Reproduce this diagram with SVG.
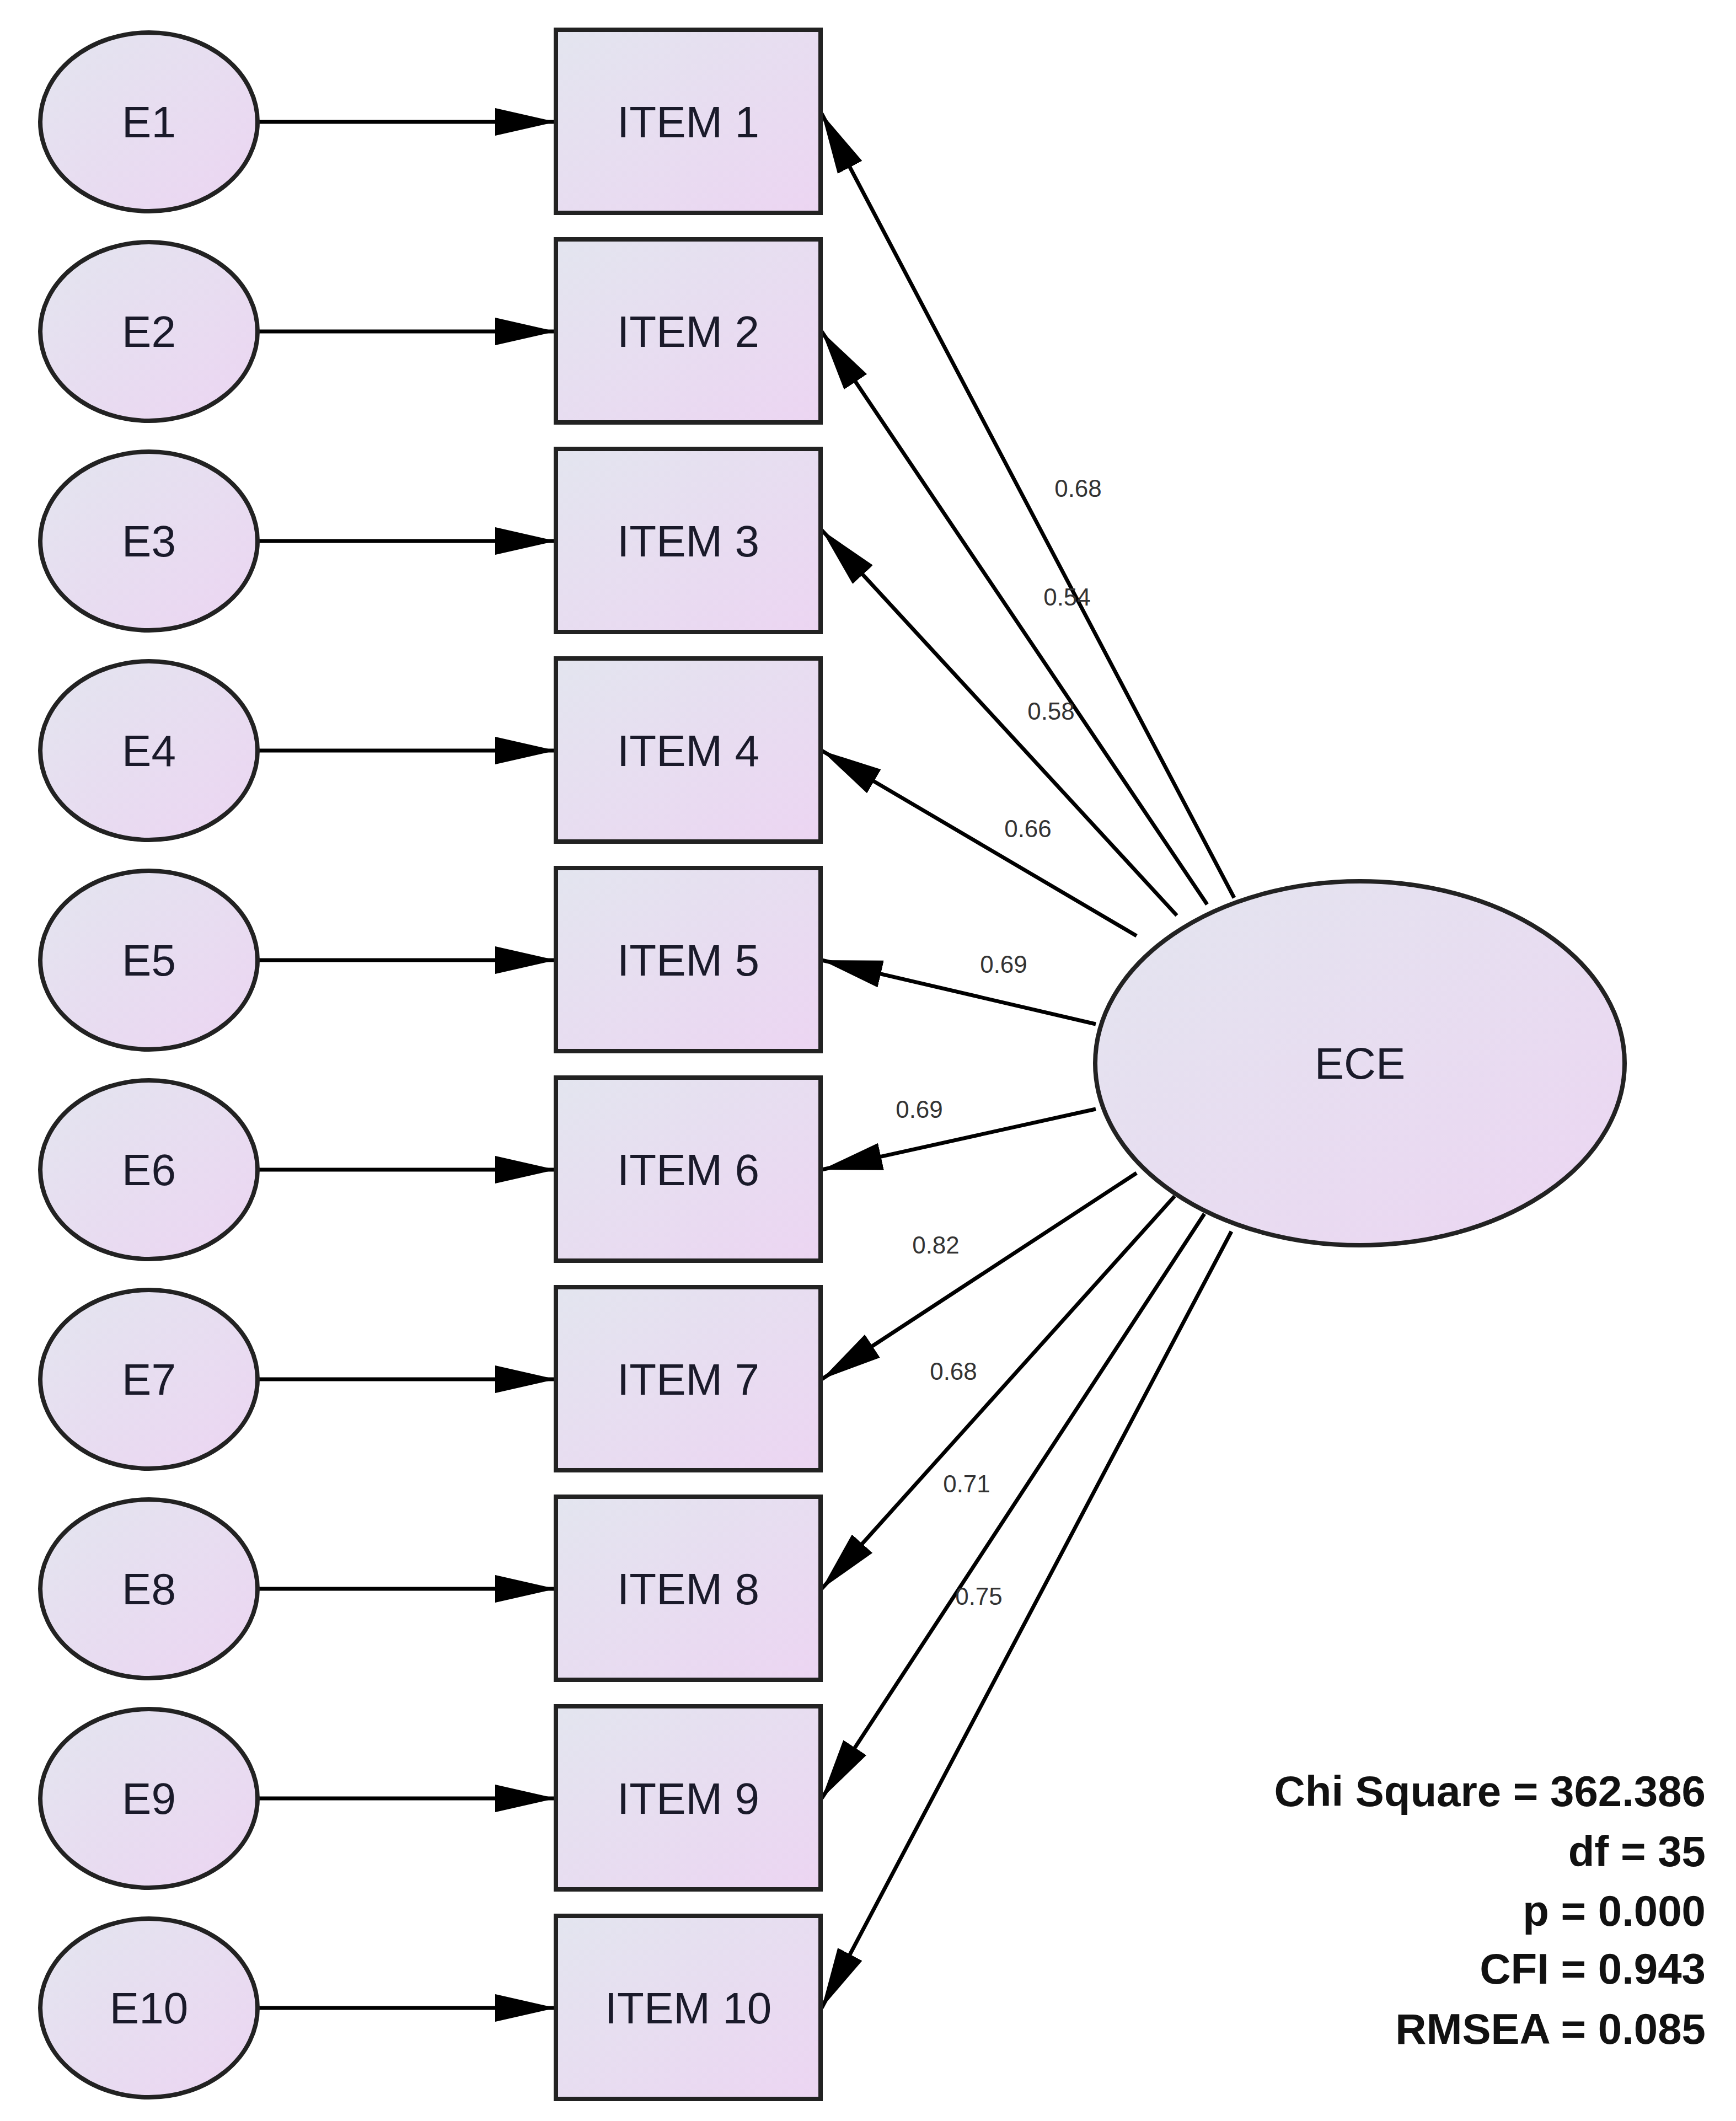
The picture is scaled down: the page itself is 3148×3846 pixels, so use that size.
<svg xmlns="http://www.w3.org/2000/svg" width="3148" height="3846" viewBox="0 0 3148 3846">
<defs>
<linearGradient id="g" x1="0" y1="0" x2="1" y2="1"><stop offset="0" stop-color="#e3e5ef"/><stop offset="1" stop-color="#ecd5f2"/></linearGradient>
<marker id="ah" markerWidth="12" markerHeight="8" refX="12" refY="4" orient="auto" markerUnits="userSpaceOnUse" viewBox="0 0 12 8" style="overflow:visible">
</marker>
<marker id="a" viewBox="0 0 110 50" refX="110" refY="25" markerWidth="110" markerHeight="50" markerUnits="userSpaceOnUse" orient="auto"><path d="M0,0 L110,25 L0,50 Z" fill="#000"/></marker>
<style>
.n{fill:url(#g);stroke:#222;stroke-width:8}
.t{font-family:"Liberation Sans",Arial,sans-serif;font-size:80px;fill:#1a1a2a;text-anchor:middle;dominant-baseline:central}
.c{stroke:#000;stroke-width:7;fill:none;marker-end:url(#a)}
.l{font-family:"Liberation Sans",Arial,sans-serif;font-size:44px;fill:#333;text-anchor:middle;dominant-baseline:central}
.s{font-family:"Liberation Sans",Arial,sans-serif;font-size:78px;font-weight:bold;fill:#111;text-anchor:end}
</style>
</defs>
<rect width="3148" height="3846" fill="#fff"/>
<g id="connectors">
<line class="c" x1="469" y1="221" x2="1008" y2="221"/>
<line class="c" x1="469" y1="601" x2="1008" y2="601"/>
<line class="c" x1="469" y1="981" x2="1008" y2="981"/>
<line class="c" x1="469" y1="1361" x2="1008" y2="1361"/>
<line class="c" x1="469" y1="1741" x2="1008" y2="1741"/>
<line class="c" x1="469" y1="2121" x2="1008" y2="2121"/>
<line class="c" x1="469" y1="2501" x2="1008" y2="2501"/>
<line class="c" x1="469" y1="2881" x2="1008" y2="2881"/>
<line class="c" x1="469" y1="3261" x2="1008" y2="3261"/>
<line class="c" x1="469" y1="3641" x2="1008" y2="3641"/>
<line class="c" x1="2238" y1="1628" x2="1490" y2="206"/>
<line class="c" x1="2189" y1="1640" x2="1490" y2="601"/>
<line class="c" x1="2134" y1="1660" x2="1490" y2="961"/>
<line class="c" x1="2061" y1="1697" x2="1490" y2="1361"/>
<line class="c" x1="1987" y1="1857" x2="1490" y2="1741"/>
<line class="c" x1="1987" y1="2011" x2="1490" y2="2121"/>
<line class="c" x1="2061" y1="2127" x2="1490" y2="2501"/>
<line class="c" x1="2130" y1="2169" x2="1490" y2="2881"/>
<line class="c" x1="2184" y1="2201" x2="1490" y2="3261"/>
<line class="c" x1="2233" y1="2233" x2="1490" y2="3641"/>
<text class="l" x="1955" y="885">0.68</text>
<text class="l" x="1935" y="1082">0.54</text>
<text class="l" x="1906" y="1289">0.58</text>
<text class="l" x="1864" y="1502">0.66</text>
<text class="l" x="1820" y="1748">0.69</text>
<text class="l" x="1667" y="2011">0.69</text>
<text class="l" x="1697" y="2257">0.82</text>
<text class="l" x="1729" y="2486">0.68</text>
<text class="l" x="1753" y="2690">0.71</text>
<text class="l" x="1775" y="2894">0.75</text>
</g>
<g id="E1"><ellipse class="n" cx="270" cy="221" rx="197" ry="162"/><text class="t" x="270" y="221">E1</text></g>
<g id="E2"><ellipse class="n" cx="270" cy="601" rx="197" ry="162"/><text class="t" x="270" y="601">E2</text></g>
<g id="E3"><ellipse class="n" cx="270" cy="981" rx="197" ry="162"/><text class="t" x="270" y="981">E3</text></g>
<g id="E4"><ellipse class="n" cx="270" cy="1361" rx="197" ry="162"/><text class="t" x="270" y="1361">E4</text></g>
<g id="E5"><ellipse class="n" cx="270" cy="1741" rx="197" ry="162"/><text class="t" x="270" y="1741">E5</text></g>
<g id="E6"><ellipse class="n" cx="270" cy="2121" rx="197" ry="162"/><text class="t" x="270" y="2121">E6</text></g>
<g id="E7"><ellipse class="n" cx="270" cy="2501" rx="197" ry="162"/><text class="t" x="270" y="2501">E7</text></g>
<g id="E8"><ellipse class="n" cx="270" cy="2881" rx="197" ry="162"/><text class="t" x="270" y="2881">E8</text></g>
<g id="E9"><ellipse class="n" cx="270" cy="3261" rx="197" ry="162"/><text class="t" x="270" y="3261">E9</text></g>
<g id="E10"><ellipse class="n" cx="270" cy="3641" rx="197" ry="162"/><text class="t" x="270" y="3641">E10</text></g>
<g id="ITEM1"><rect class="n" x="1008" y="54" width="480" height="332"/><text class="t" x="1248" y="221">ITEM 1</text></g>
<g id="ITEM2"><rect class="n" x="1008" y="434" width="480" height="332"/><text class="t" x="1248" y="601">ITEM 2</text></g>
<g id="ITEM3"><rect class="n" x="1008" y="814" width="480" height="332"/><text class="t" x="1248" y="981">ITEM 3</text></g>
<g id="ITEM4"><rect class="n" x="1008" y="1194" width="480" height="332"/><text class="t" x="1248" y="1361">ITEM 4</text></g>
<g id="ITEM5"><rect class="n" x="1008" y="1574" width="480" height="332"/><text class="t" x="1248" y="1741">ITEM 5</text></g>
<g id="ITEM6"><rect class="n" x="1008" y="1954" width="480" height="332"/><text class="t" x="1248" y="2121">ITEM 6</text></g>
<g id="ITEM7"><rect class="n" x="1008" y="2334" width="480" height="332"/><text class="t" x="1248" y="2501">ITEM 7</text></g>
<g id="ITEM8"><rect class="n" x="1008" y="2714" width="480" height="332"/><text class="t" x="1248" y="2881">ITEM 8</text></g>
<g id="ITEM9"><rect class="n" x="1008" y="3094" width="480" height="332"/><text class="t" x="1248" y="3261">ITEM 9</text></g>
<g id="ITEM10"><rect class="n" x="1008" y="3474" width="480" height="332"/><text class="t" x="1248" y="3641">ITEM 10</text></g>
<g id="ECE"><ellipse class="n" cx="2466" cy="1928" rx="480" ry="330"/><text class="t" x="2466" y="1928">ECE</text></g>
<g id="stats">
<text class="s" x="3093" y="3275">Chi Square = 362.386</text>
<text class="s" x="3093" y="3384">df = 35</text>
<text class="s" x="3093" y="3492">p = 0.000</text>
<text class="s" x="3093" y="3597">CFI = 0.943</text>
<text class="s" x="3093" y="3706">RMSEA = 0.085</text>
</g>
</svg>
